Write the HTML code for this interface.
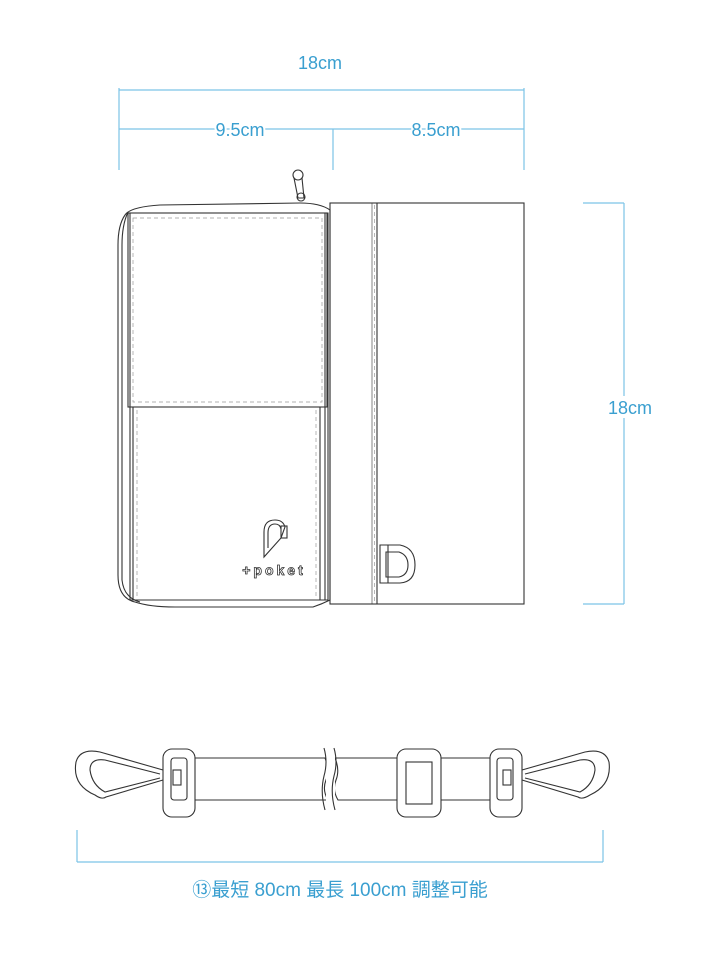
<!DOCTYPE html>
<html><head><meta charset="utf-8"><style>
html,body{margin:0;padding:0;background:#fff;}
svg{display:block}
text{font-family:"Liberation Sans","Noto Sans CJK JP",sans-serif;fill:#3a9fd0}
</style></head><body>
<svg width="712" height="972" viewBox="0 0 712 972" xmlns="http://www.w3.org/2000/svg">
<g stroke="#7cc3e6" stroke-width="1.2" fill="none">
<line x1="119" y1="90" x2="524" y2="90"/>
<line x1="119" y1="88" x2="119" y2="170"/>
<line x1="524" y1="88" x2="524" y2="170"/>
<line x1="119" y1="129" x2="524" y2="129"/>
<line x1="333" y1="129" x2="333" y2="170"/>
<line x1="624" y1="203" x2="624" y2="604"/>
<line x1="583" y1="203" x2="624" y2="203"/>
<line x1="583" y1="604" x2="624" y2="604"/>
<line x1="77" y1="862" x2="603" y2="862"/>
<line x1="77" y1="830" x2="77" y2="862"/>
<line x1="603" y1="830" x2="603" y2="862"/>
</g>
<rect x="604" y="396" width="52" height="22" fill="#fff"/>
<text x="320" y="69" font-size="18" text-anchor="middle">18cm</text>
<text x="240" y="136" font-size="18" text-anchor="middle" style="paint-order:stroke" stroke="#fff" stroke-width="4">9.5cm</text>
<text x="436" y="136" font-size="18" text-anchor="middle" style="paint-order:stroke" stroke="#fff" stroke-width="4">8.5cm</text>
<text x="630" y="414" font-size="18" text-anchor="middle">18cm</text>
<text x="340" y="896" font-size="19" text-anchor="middle">⑬最短 80cm 最長 100cm 調整可能</text>

<g stroke="#333" stroke-width="1.1" fill="none">
<rect x="330" y="203" width="194" height="401"/>
<line x1="372" y1="203" x2="372" y2="604" stroke-width="0.6"/>
<line x1="377" y1="203" x2="377" y2="604"/>
<path d="M330,210 Q320,203 300,203 L160,205 Q130,207 125,215 Q118,225 118,245 L118,575 Q118,598 135,602 Q150,607 175,607 L313,607 Q322,604 330,600 Z"/>
<path d="M128,212 Q122,225 122,245 L122,580 Q124,598 140,602"/>
<path d="M130,213 L328,213 L328,600 L130,600 Z" />
<rect x="128" y="213" width="199" height="194" />
<line x1="133" y1="407" x2="133" y2="600"/>
<line x1="320" y1="407" x2="320" y2="600"/>
<line x1="325" y1="213" x2="325" y2="600"/>
<path d="M380,545 L400,545 Q415,548 415,565 Q415,582 400,583 L380,583 Z"/>
<path d="M386,552 L399,552 Q408,555 408,565 Q408,575 399,577 L386,577 Z"/>
<line x1="388" y1="545" x2="388" y2="583"/>
<circle cx="298" cy="175" r="5"/>
<path d="M294,178 L298,198 L304,198 L302,178"/>
<circle cx="301" cy="197" r="4"/>
<path d="M264,557 L264,532 Q264,520 275,520 Q283,520 285,527 L281,538 Z"/>
<path d="M268,548 L268,533 Q268,524 275,524 Q280,524 281,529"/>
<rect x="281" y="526" width="6" height="12"/>
</g>
<g stroke="#999" stroke-width="0.7" stroke-dasharray="4,3" fill="none">
<rect x="133" y="218" width="189" height="184"/>
<line x1="137" y1="410" x2="137" y2="598"/>
<line x1="316" y1="410" x2="316" y2="598"/>
<line x1="374.5" y1="205" x2="374.5" y2="602"/>
</g>
<text x="274" y="575" font-size="14" text-anchor="middle" style="fill:#fff;stroke:#333;stroke-width:0.8;letter-spacing:3px;font-weight:bold">+poket</text>

<g stroke="#333" stroke-width="1.1" fill="#fff">
<path d="M180,758 L325,758 Q330,770 326,780 Q322,790 328,800 L180,800 Z"/>
<path d="M335,758 L505,758 L505,800 L338,800 Q332,790 336,780 Q340,770 335,758 Z"/>
<path d="M163,770 L100,752 Q80,748 76,762 Q72,785 95,795 Q102,800 106,797 L163,780" fill="none"/>
<path d="M160,774 L105,760 Q90,758 90,770 Q92,785 105,792 L160,778" fill="none"/>
<path d="M522,770 L585,752 Q605,748 609,762 Q612,785 590,795 Q582,800 578,797 L522,780" fill="none"/>
<path d="M525,774 L580,760 Q595,758 595,770 Q593,785 580,792 L525,778" fill="none"/>
<rect x="163" y="749" width="32" height="68" rx="9"/>
<rect x="171" y="758" width="16" height="42" rx="3" fill="none"/>
<rect x="173" y="770" width="8" height="15" fill="none"/>
<rect x="490" y="749" width="32" height="68" rx="9"/>
<rect x="497" y="758" width="16" height="42" rx="3" fill="none"/>
<rect x="503" y="770" width="8" height="15" fill="none"/>
<rect x="397" y="749" width="44" height="68" rx="9"/>
<rect x="406" y="762" width="26" height="42" fill="none"/>
</g>
<rect x="326" y="745" width="9" height="65" fill="#fff"/>
<g stroke="#333" stroke-width="1.1" fill="none">
<path d="M324,748 Q328,762 324,776 Q320,792 325,810"/>
<path d="M334,748 Q338,762 334,776 Q330,792 335,810"/>
</g>
</svg>
</body></html>
